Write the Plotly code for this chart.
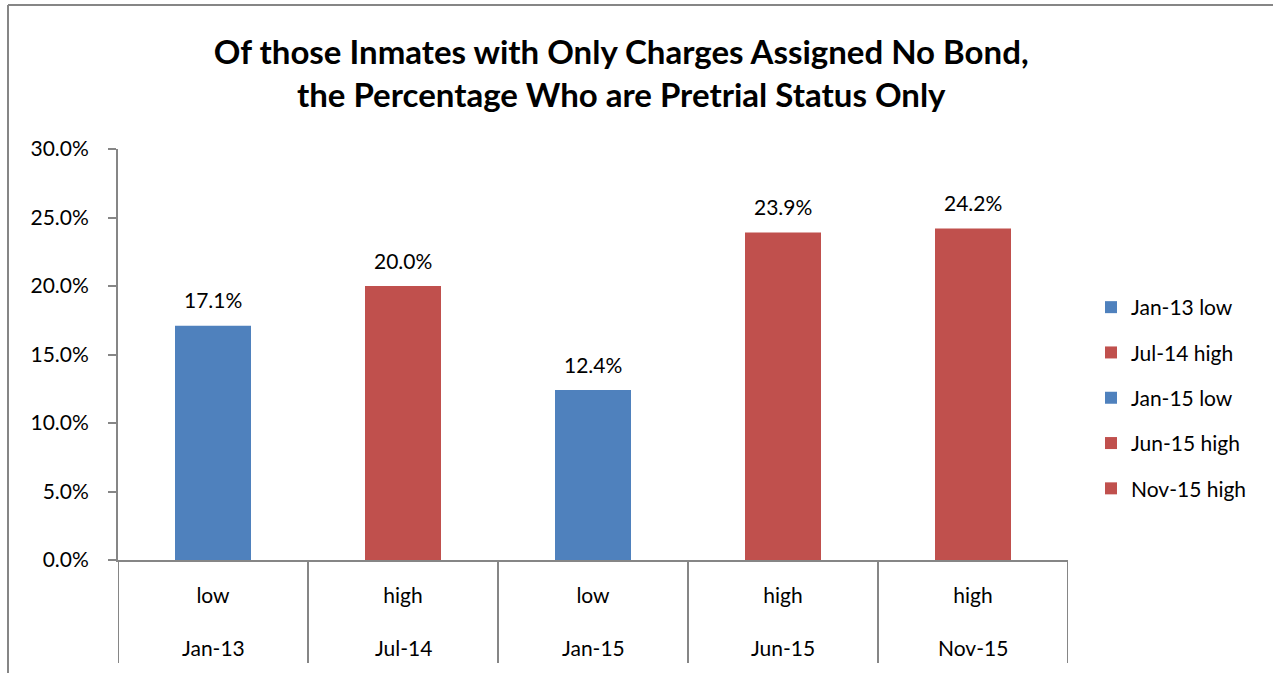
import plotly.graph_objects as go

# ---- data ----
dates = ["Jan-13", "Jul-14", "Jan-15", "Jun-15", "Nov-15"]
levels = ["low", "high", "low", "high", "high"]
values = [0.171, 0.200, 0.124, 0.239, 0.242]
colors_by_level = {"low": "#4F81BD", "high": "#C0504D"}
y_ticks = [0.0, 0.05, 0.10, 0.15, 0.20, 0.25, 0.30]

FONT = "Lato, Carlito, Calibri, sans-serif"
FS = 21
W, H = 1273, 673
ML, MR, MT, MB = 118, 205, 149, 113
pw = W - ML - MR
ph = H - MT - MB

fig = go.Figure()
for i, (d, lv, v) in enumerate(zip(dates, levels, values)):
    fig.add_trace(go.Bar(
        x=[i], y=[v], width=0.4,
        name=f"{d} {lv}",
        legendgroup=f"g{i}",
        marker=dict(color=colors_by_level[lv], line=dict(width=0)),
    ))
    fig.add_annotation(x=i, y=v, xref="x", yref="y", text=f"{v*100:.1f}%",
                       showarrow=False, yanchor="middle", yshift=26,
                       font=dict(family=FONT, size=FS, color="#000000"))

axis_color = "#868686"
fig.update_layout(
    width=W, height=H,
    margin=dict(l=ML, r=MR, t=MT, b=MB, autoexpand=False),
    paper_bgcolor="white", plot_bgcolor="white",
    barmode="overlay",
    showlegend=True,
    title=dict(
        text="Of those Inmates with Only Charges Assigned No Bond,<br>the Percentage Who are Pretrial Status Only",
        x=0.488, xanchor="center", y=1 - 64 / H, yanchor="middle",
        font=dict(family=FONT, size=33, color="#000000", weight="bold"),
    ),
    legend=dict(
        x=(1091 - ML) / pw, xanchor="left",
        y=(H - MB - 398) / ph, yanchor="middle",
        font=dict(family=FONT, size=FS, color="#000000"),
        tracegroupgap=15, itemwidth=30,
        bgcolor="rgba(0,0,0,0)",
    ),
    xaxis=dict(
        range=[-0.5, len(dates) - 0.5],
        tickvals=list(range(len(dates))), ticktext=levels,
        showgrid=False, zeroline=False,
        showline=True, linecolor=axis_color, linewidth=2,
        ticks="", ticklabelstandoff=16,
        tickfont=dict(family=FONT, size=FS, color="#000000"),
    ),
    yaxis=dict(
        range=[0, 0.30], tickvals=y_ticks, tickformat=".1%",
        showgrid=False, zeroline=False,
        showline=True, linecolor=axis_color, linewidth=2,
        ticks="outside", ticklen=8, tickcolor=axis_color, tickwidth=2,
        tickfont=dict(family=FONT, size=FS, color="#000000"),
        ticklabelstandoff=15,
    ),
)

# outer category labels (dates)
for i, d in enumerate(dates):
    fig.add_annotation(x=i, xref="x", y=-(647 - (H - MB)) / ph, yref="paper",
                       text=d, showarrow=False, yanchor="middle",
                       font=dict(family=FONT, size=FS, color="#000000"))

# category dividers
for b in range(len(dates) + 1):
    fig.add_shape(type="line", xref="x", yref="paper",
                  x0=b - 0.5, x1=b - 0.5, y0=0, y1=-(663 - (H - MB)) / ph,
                  line=dict(color=axis_color, width=2))

# chart frame (left & top edges visible)
fx0 = (8 - ML) / pw
fy_top = (H - MB - 5) / ph
fig.add_shape(type="line", xref="paper", yref="paper",
              x0=fx0, x1=fx0, y0=fy_top, y1=-(H + 10 - (H - MB)) / ph,
              line=dict(color=axis_color, width=2))
fig.add_shape(type="line", xref="paper", yref="paper",
              x0=fx0, x1=(W + 10 - ML) / pw, y0=fy_top, y1=fy_top,
              line=dict(color=axis_color, width=2))

fig.write_html("out.html", config={"displayModeBar": False},
               post_script="document.body.style.margin='0';")
